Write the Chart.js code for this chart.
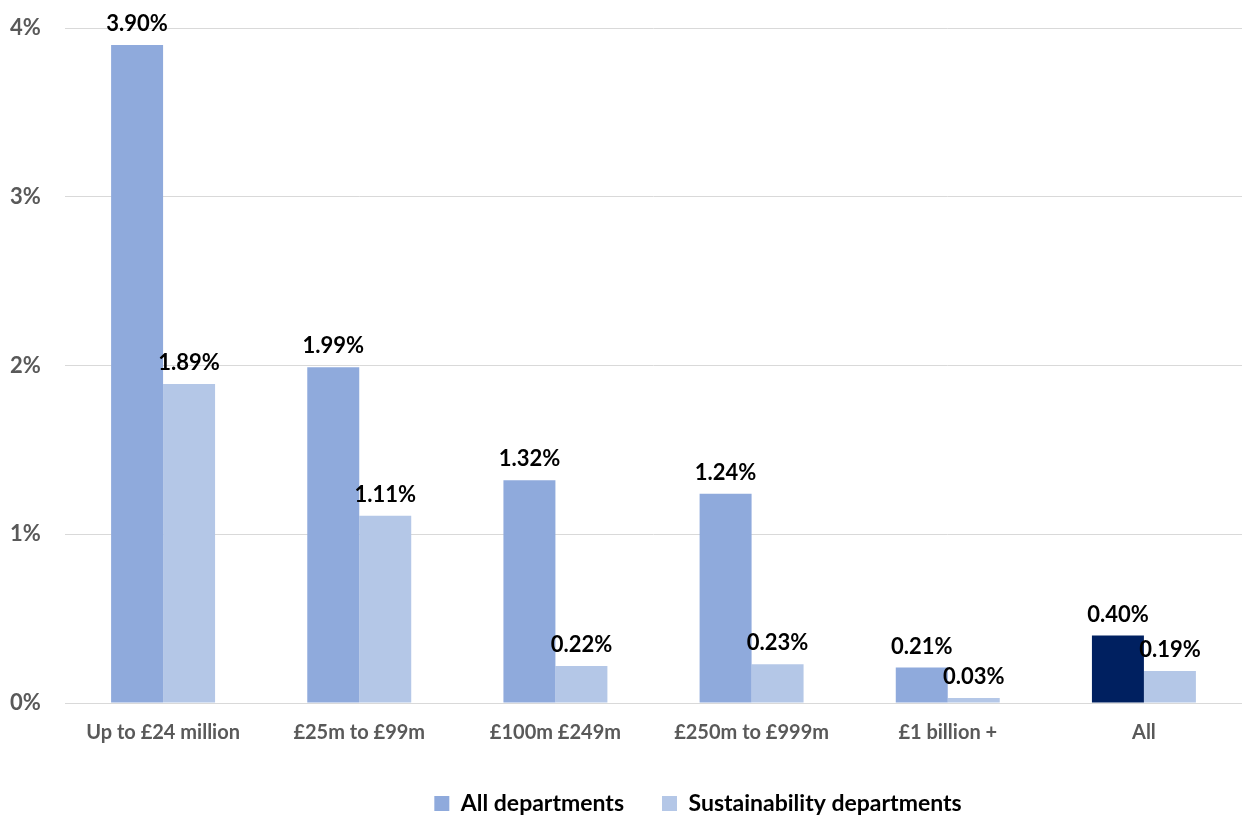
<!DOCTYPE html>
<html lang="en">
<head>
    <meta charset="UTF-8">
    <title>Bands chart</title>
    <script src="https://cdn.jsdelivr.net/npm/chart.js"></script>
    <style>
        body {
            margin: 0;
            background-color: #ffffff;
        }
        .chart-container {
            width: 1242px;
            height: 817px;
        }
    </style>
</head>
<body>
    <div class="chart-container">
        <canvas id="bandChart" width="1242" height="817"></canvas>
    </div>

    <script>
        // chart data
        const categories = ["Up to £24 million", "£25m to £99m", "£100m £249m", "£250m to £999m", "£1 billion +", "All"];
        const allDepartments = [3.90, 1.99, 1.32, 1.24, 0.21, 0.40];
        const sustainabilityDepartments = [1.89, 1.11, 0.22, 0.23, 0.03, 0.19];
        const yTicks = [0, 1, 2, 3, 4];

        const fontFamily = "Lato, 'Open Sans', sans-serif";

        // writes the value above each bar
        const valueLabels = {
            id: "valueLabels",
            afterDatasetsDraw(chart) {
                const ctx = chart.ctx;
                ctx.save();
                ctx.font = "bold 22px " + fontFamily;
                ctx.fillStyle = "#000000";
                ctx.textAlign = "center";
                ctx.textBaseline = "alphabetic";
                chart.data.datasets.forEach((ds, i) => {
                    chart.getDatasetMeta(i).data.forEach((bar, j) => {
                        ctx.fillText(ds.data[j].toFixed(2) + "%", bar.x, bar.y - 14);
                    });
                });
                ctx.restore();
            }
        };

        // the legend in the original sits a bit right of centre
        const legendShift = {
            id: "legendShift",
            beforeDraw(chart) {
                const lg = chart.legend;
                if (lg && !lg._shifted) {
                    lg.left += 72;
                    lg.right += 72;
                    lg._shifted = true;
                }
            }
        };

        const ctx = document.getElementById("bandChart").getContext("2d");
        new Chart(ctx, {
            type: "bar",
            data: {
                labels: categories,
                datasets: [{
                    label: "All departments",
                    data: allDepartments,
                    backgroundColor: allDepartments.map((v, i) => i === categories.length - 1 ? "#002060" : "#8FAADC"),
                    categoryPercentage: 0.53,
                    barPercentage: 1.0
                }, {
                    label: "Sustainability departments",
                    data: sustainabilityDepartments,
                    backgroundColor: "#B4C7E7",
                    categoryPercentage: 0.53,
                    barPercentage: 1.0
                }]
            },
            options: {
                responsive: false,
                animation: false,
                layout: {
                    padding: { top: 28, right: 0, left: 10, bottom: -8 }
                },
                plugins: {
                    tooltip: { enabled: false },
                    legend: {
                        position: "bottom",
                        labels: {
                            boxWidth: 15,
                            boxHeight: 15,
                            padding: 38,
                            color: "#595959",
                            font: { family: fontFamily, size: 23, weight: "bold" },
                            generateLabels(chart) {
                                return chart.data.datasets.map((ds, i) => ({
                                    text: ds.label,
                                    fillStyle: i === 0 ? "#8FAADC" : "#B4C7E7",
                                    strokeStyle: "transparent",
                                    lineWidth: 0,
                                    datasetIndex: i
                                }));
                            }
                        }
                    }
                },
                scales: {
                    x: {
                        grid: { display: false },
                        border: { color: "#D9D9D9", width: 1 },
                        ticks: {
                            color: "#595959",
                            padding: 10,
                            font: { family: fontFamily, size: 20, weight: "bold" }
                        },
                        afterFit(axis) { axis.height = 51; }
                    },
                    y: {
                        min: 0,
                        max: 4,
                        afterBuildTicks(axis) {
                            axis.ticks = yTicks.map(v => ({ value: v }));
                        },
                        grid: { color: "#D9D9D9", drawTicks: false },
                        border: { display: false },
                        ticks: {
                            color: "#595959",
                            padding: 0,
                            crossAlign: "far",
                            font: { family: fontFamily, size: 22, weight: "bold" },
                            callback: v => v + "%"
                        },
                        afterFit(axis) { axis.width = 55; }
                    }
                }
            },
            plugins: [valueLabels, legendShift]
        });
    </script>
</body>
</html>
